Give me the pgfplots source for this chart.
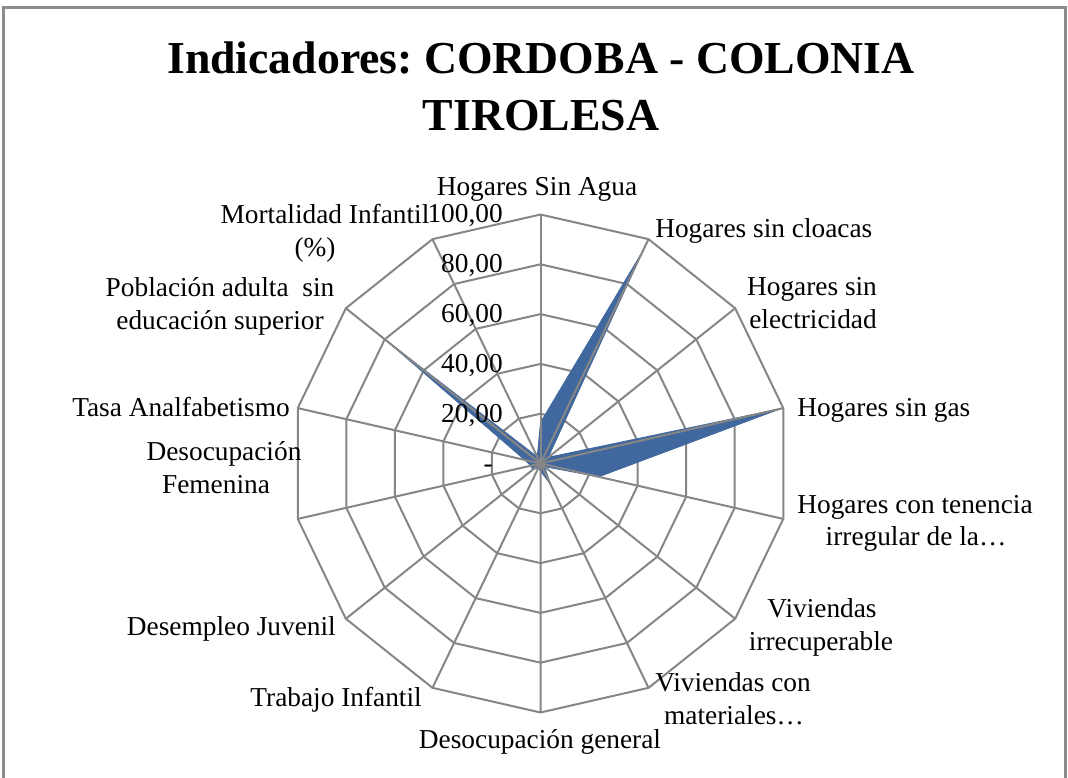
\documentclass[border=0pt]{standalone}
\usepackage{pgfplots}
\pgfplotsset{compat=1.18}
\usepackage{pgfplotstable}
\usepackage{fontspec}
\setmainfont{Liberation Serif}
\frenchspacing
\definecolor{gridgray}{RGB}{134,134,134}
\definecolor{framegray}{RGB}{140,140,140}
\definecolor{serieblue}{RGB}{64,104,158}

\pgfplotstableread{
i v
0 16.5
1 95
2 4
3 99
4 24
5 2
6 9.5
7 3
8 2
9 4
10 4
11 6.5
12 79.5
13 3
14 16.5
}\datatable

\pgfplotstableread{
i d
0 0
1 0
2 0
3 0
4 0
5 0
6 0
7 0
8 0
9 0
10 0
11 0
12 0
13 0
14 0
}\angtable

\pgfplotstableread{
r d
0 0
100 0
}\spoketable

\begin{document}
\begin{tikzpicture}
\begin{scope}[x=0.75pt,y=-0.75pt]
\useasboundingbox (0,0) rectangle (1068,778);
\draw[framegray, line width=1.9pt] (3.5,7.3) rectangle (1065.5,790);
\end{scope}

\begin{axis}[
  at={(405.375pt,-347.625pt)}, anchor=center,
  scale only axis,
  width=373.5pt, height=373.5pt,
  xmin=-100, xmax=100, ymin=-100, ymax=100,
  axis lines=none, clip=false,
]
\pgfplotsinvokeforeach{20,40,60,80,100}{
  \addplot[gridgray, line width=1.5pt, mark=none, line join=miter]
    table[x expr={#1*sin(\thisrow{i}*360/14)}, y expr={#1*cos(\thisrow{i}*360/14)}] {\angtable};
}
\addplot[fill=serieblue, draw=serieblue, line width=0.6pt, line join=round, mark=none]
  table[x expr={\thisrow{v}*sin(\thisrow{i}*360/14)}, y expr={\thisrow{v}*cos(\thisrow{i}*360/14)}] {\datatable};
\pgfplotsinvokeforeach{0,...,13}{
  \addplot[gridgray, line width=1.5pt, mark=none]
    table[x expr={\thisrow{r}*sin(#1*360/14)}, y expr={\thisrow{r}*cos(#1*360/14)}] {\spoketable};
}
\end{axis}

\begin{scope}[x=0.75pt,y=-0.75pt]
% title
\node[font=\fontsize{34.3}{40}\selectfont\bfseries, anchor=base] at (541,73) {Indicadores: CORDOBA - COLONIA};
\node[font=\fontsize{34.3}{40}\selectfont\bfseries, anchor=base] at (541,130) {TIROLESA};

\begin{scope}[every node/.style={font=\fontsize{20.5}{24}\selectfont, inner sep=0pt}]
% radial tick labels
\node[anchor=base east] at (503,222) {100,00};
\node[anchor=base east] at (503,272) {80,00};
\node[anchor=base east] at (503,322) {60,00};
\node[anchor=base east] at (503,372) {40,00};
\node[anchor=base east] at (503,422) {20,00};
\node[anchor=base east] at (493,472) {-};
% category labels
\node[anchor=base] at (537,195) {Hogares Sin Agua};
\node[anchor=base west] at (655,237) {Hogares sin cloacas};
\node[anchor=base] at (812,295) {Hogares sin};
\node[anchor=base] at (813,328) {electricidad};
\node[anchor=base west] at (797,416) {Hogares sin gas};
\node[anchor=base] at (915,513) {Hogares con tenencia};
\node[anchor=base] at (916,545) {irregular de la…};
\node[anchor=base] at (822,617) {Viviendas};
\node[anchor=base] at (821,650) {irrecuperable};
\node[anchor=base] at (733,691) {Viviendas con};
\node[anchor=base] at (734,724) {materiales…};
\node[anchor=base] at (540,748) {Desocupación general};
\node[anchor=base east] at (422,706) {Trabajo Infantil};
\node[anchor=base east] at (336,635) {Desempleo Juvenil};
\node[anchor=base] at (224,460) {Desocupación};
\node[anchor=base] at (216,493) {Femenina};
\node[anchor=base east] at (290,416) {Tasa Analfabetismo};
\node[anchor=base] at (220,296) {Población adulta\ \ sin};
\node[anchor=base] at (220,329) {educación superior};
\node[anchor=base] at (325,223) {Mortalidad Infantil};
\node[anchor=base] at (315,256) {(\%)};
\end{scope}
\end{scope}
\end{tikzpicture}
\end{document}
